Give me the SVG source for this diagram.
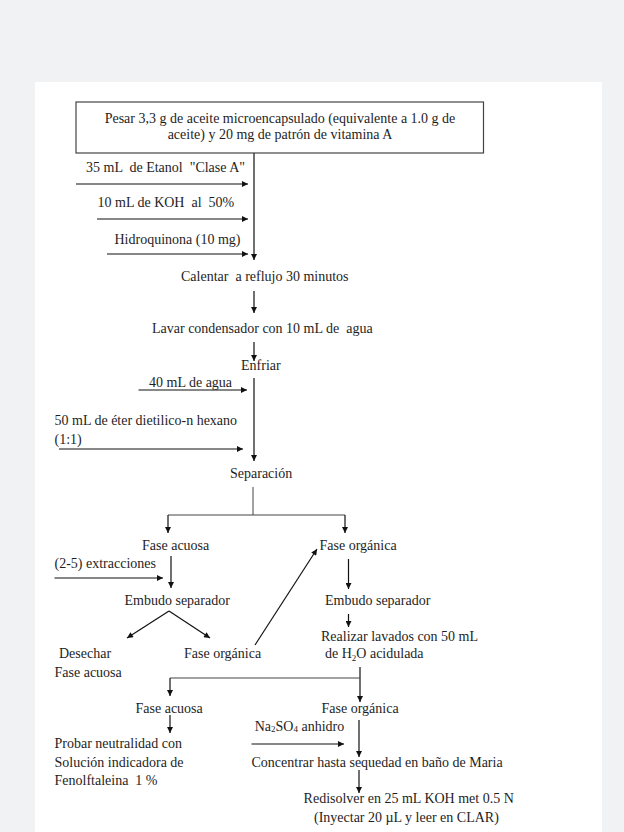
<svg xmlns="http://www.w3.org/2000/svg" width="624" height="832" viewBox="0 0 624 832">
<defs>
<style>
text{font-family:"Liberation Serif","Times New Roman",serif;font-size:14px;fill:#1e1e1e;white-space:pre}
.c{text-anchor:middle}
.ln{fill:none;stroke:#111;stroke-width:1.2}
.thin{fill:none;stroke:#444;stroke-width:1}
.ar{marker-end:url(#ah)}
.sub{font-size:9px}
</style>
<marker id="ah" viewBox="0 0 10 10" refX="10" refY="5" markerWidth="7" markerHeight="6" markerUnits="userSpaceOnUse" orient="auto">
<path d="M0,0 L10,5 L0,10 z" fill="#111"/>
</marker>
</defs>
<rect x="0" y="0" width="624" height="832" fill="#f1f2f4"/>
<rect x="35" y="82" width="567" height="750" fill="#ffffff"/>

<g id="connectors">
<path class="ln ar" d="M254,153 V260"/>
<path class="ln ar" d="M76,184 H248"/>
<path class="ln ar" d="M97,219 H248"/>
<path class="ln ar" d="M107,254 H248"/>
<path class="ln ar" d="M254,291 V313"/>
<path class="ln ar" d="M254,342 V361"/>
<path class="ln ar" d="M254,378 V461"/>
<path class="ln ar" d="M138.5,390 H247"/>
<path class="ln ar" d="M59,449 H243"/>
<path class="thin" d="M253,487 V515 M168,515 H345"/>
<path class="ln ar" d="M168,515 V533"/>
<path class="ln ar" d="M345,515 V533"/>
<path class="ln ar" d="M171,556 V588"/>
<path class="ln ar" d="M54.5,578 H163"/>
<path class="ln ar" d="M169,611 L127,638"/>
<path class="ln ar" d="M169,611 L210,638"/>
<path class="ln ar" d="M255,645 L317,549"/>
<path class="ln ar" d="M348.5,559 V589"/>
<path class="ln ar" d="M348.5,614 V627"/>
<path class="ln ar" d="M360,667 V702"/>
<path class="thin" d="M170,678 H360"/>
<path class="ln ar" d="M170,678 V696"/>
<path class="ln ar" d="M170,715 V733"/>
<path class="ln ar" d="M251.5,744 H344"/>
<path class="ln ar" d="M359,720 V757"/>
<path class="ln ar" d="M359,770 V793"/>
</g>

<g id="n-pesar">
<rect x="76" y="102" width="407.5" height="51" fill="#fff" stroke="#444" stroke-width="1.2"/>
<text class="c" x="280" y="123">Pesar 3,3 g de aceite microencapsulado (equivalente a 1.0 g de</text>
<text class="c" x="280" y="139">aceite) y 20 mg de patrón de vitamina A</text>
</g>
<g id="n-etanol"><text x="86" y="172">35 mL  de Etanol  "Clase A"</text></g>
<g id="n-koh"><text x="97.5" y="207">10 mL de KOH  al  50%</text></g>
<g id="n-hidro"><text x="114.5" y="244">Hidroquinona (10 mg)</text></g>
<g id="n-calentar"><text x="181" y="281">Calentar  a reflujo 30 minutos</text></g>
<g id="n-lavar"><text x="152" y="333">Lavar condensador con 10 mL de  agua</text></g>
<g id="n-enfriar"><text x="241" y="370">Enfriar</text></g>
<g id="n-agua"><text x="149" y="387">40 mL de agua</text></g>
<g id="n-eter"><text x="54.5" y="425">50 mL de éter dietilico-n hexano</text><text x="54.5" y="444">(1:1)</text></g>
<g id="n-separacion"><text x="230" y="478">Separación</text></g>
<g id="n-acuosa1"><text x="142" y="550">Fase acuosa</text></g>
<g id="n-organica1"><text x="319.5" y="550">Fase orgánica</text></g>
<g id="n-extracciones"><text x="54.5" y="568">(2-5) extracciones</text></g>
<g id="n-embudo1"><text x="124.5" y="605">Embudo separador</text></g>
<g id="n-embudo2"><text x="325" y="605">Embudo separador</text></g>
<g id="n-desechar"><text x="59" y="658">Desechar</text><text x="54.5" y="677">Fase acuosa</text></g>
<g id="n-organica2"><text x="184" y="658">Fase orgánica</text></g>
<g id="n-realizar"><text x="321" y="641">Realizar lavados con 50 mL</text><text x="325" y="658">de H<tspan class="sub" dy="3">2</tspan><tspan dy="-3">O acidulada</tspan></text></g>
<g id="n-acuosa2"><text x="135.5" y="713">Fase acuosa</text></g>
<g id="n-organica3"><text x="321.5" y="713">Fase orgánica</text></g>
<g id="n-na2so4"><text x="254.7" y="731">Na<tspan class="sub" dy="1">2</tspan><tspan dy="-1">SO</tspan><tspan class="sub" dy="1">4</tspan><tspan dy="-1"> anhidro</tspan></text></g>
<g id="n-probar"><text x="54.5" y="748">Probar neutralidad con</text><text x="54.5" y="767">Solución indicadora de</text><text x="54.5" y="785">Fenolftaleina  1 %</text></g>
<g id="n-concentrar"><text x="251.5" y="767">Concentrar hasta sequedad en baño de Maria</text></g>
<g id="n-redisolver"><text x="303.6" y="803">Redisolver en 25 mL KOH met 0.5 N</text><text x="314" y="822">(Inyectar 20 µL y leer en CLAR)</text></g>
</svg>
